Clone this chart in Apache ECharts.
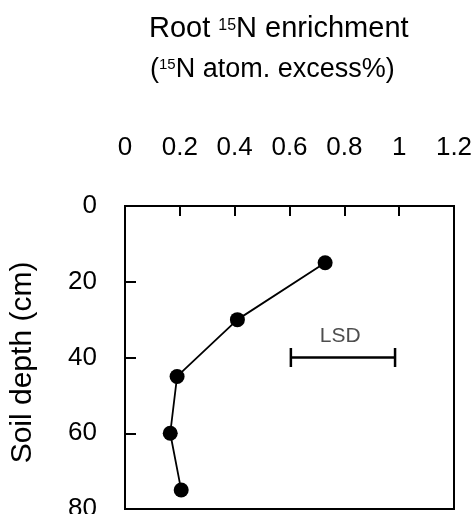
<!DOCTYPE html>
<html>
<head>
<meta charset="utf-8">
<script src="https://cdn.jsdelivr.net/npm/echarts@6/dist/echarts.min.js"></script>
<style>
  html, body { margin: 0; padding: 0; background: #fff; }
  #chart { width: 475px; height: 514px; }
</style>
</head>
<body>
<div id="chart"></div>
<script>
// Root 15N enrichment by soil depth
const depths = [15, 30, 45, 60, 75]
const enrichment = [0.73, 0.41, 0.19, 0.165, 0.205]

// LSD bar (x range at depth), label spot
const lsdX = [0.605, 0.985]
const lsdDepth = 40
const lsdLabelPos = [0.785, 34.5]

const xTicks = { min: 0, max: 1.2, interval: 0.2 }
const yTicks = { min: 0, max: 80, interval: 20 }

const font = '"Liberation Sans", Arial, sans-serif'

const chart = echarts.init(document.getElementById('chart'))

const option = {
  animation: false,
  backgroundColor: '#fff',
  title: [
    {
      text: 'Root {sup|15}N enrichment',
      left: 149,
      top: 14,
      padding: 0,
      textStyle: {
        fontFamily: font,
        fontSize: 29,
        fontWeight: 'normal',
        color: '#000',
        lineHeight: 30,
        rich: {
          sup: { fontFamily: font, fontSize: 16, verticalAlign: 'top', padding: [4, 0, 0, 0], color: '#000' },
        },
      },
    },
    {
      text: '({sup|15}N atom. excess%)',
      left: 150,
      top: 55,
      padding: 0,
      textStyle: {
        fontFamily: font,
        fontSize: 27,
        fontWeight: 'normal',
        color: '#000',
        lineHeight: 30,
        rich: {
          sup: { fontFamily: font, fontSize: 15, verticalAlign: 'top', padding: [2, 0, 0, 0], color: '#000' },
        },
      },
    },
  ],
  grid: {
    left: 125,
    top: 206,
    right: 21,
    bottom: 5,
    show: true,
    borderColor: '#000',
    borderWidth: 2,
    outerBoundsMode: 'none',
  },
  xAxis: {
    type: 'value',
    position: 'top',
    min: xTicks.min,
    max: xTicks.max,
    interval: xTicks.interval,
    axisLine: { show: true, lineStyle: { color: '#000', width: 2 } },
    axisTick: { show: true, inside: true, length: 10, lineStyle: { color: '#000', width: 2 } },
    axisLabel: { color: '#000', fontFamily: font, fontSize: 26, margin: 45 },
    splitLine: { show: false },
  },
  yAxis: {
    type: 'value',
    inverse: true,
    min: yTicks.min,
    max: yTicks.max,
    interval: yTicks.interval,
    name: 'Soil depth (cm)',
    nameLocation: 'middle',
    nameGap: 87,
    nameTextStyle: { color: '#000', fontFamily: font, fontSize: 30, padding: [0, 10, 0, 0] },
    axisLine: { show: true, lineStyle: { color: '#000', width: 2 } },
    axisTick: { show: true, inside: true, length: 11, lineStyle: { color: '#000', width: 2 } },
    axisLabel: { color: '#000', fontFamily: font, fontSize: 26, margin: 28, padding: [0, 0, 6, 0] },
    splitLine: { show: false },
  },
  series: [
    {
      name: 'Root',
      type: 'line',
      data: enrichment.map((v, i) => [v, depths[i]]),
      symbol: 'circle',
      symbolSize: 15,
      lineStyle: { color: '#000', width: 1.8 },
      itemStyle: { color: '#000' },
    },
    {
      name: 'LSD',
      type: 'line',
      data: lsdX.map(x => [x, lsdDepth]),
      symbol: 'rect',
      symbolSize: [2.5, 19],
      lineStyle: { color: '#000', width: 2.5 },
      itemStyle: { color: '#000' },
    },
    {
      name: 'LSD label',
      type: 'scatter',
      data: [lsdLabelPos],
      symbolSize: 1,
      itemStyle: { color: 'rgba(0,0,0,0)' },
      label: {
        show: true,
        position: 'inside',
        formatter: 'LSD',
        fontFamily: font,
        fontSize: 21,
        color: '#222',
      },
    },
  ],
}

chart.setOption(option)
</script>
</body>
</html>
